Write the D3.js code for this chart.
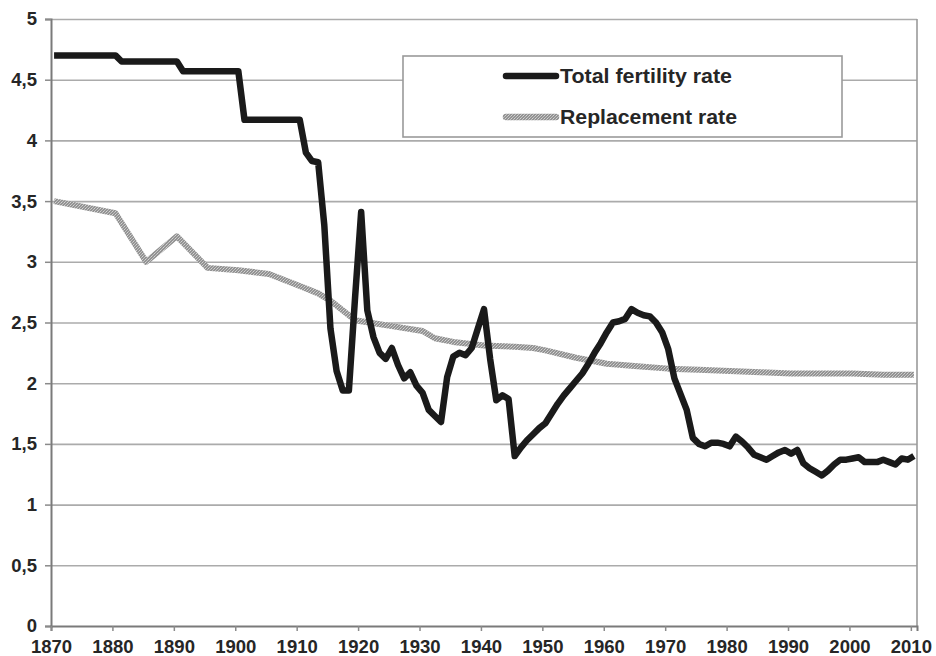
<!DOCTYPE html>
<html>
<head>
<meta charset="utf-8">
<script src="https://cdn.jsdelivr.net/npm/d3@7"></script>
<style>
    body { margin: 0; background: #fff; }
    svg text { font-family: "Liberation Sans", Arial, sans-serif; font-weight: bold; fill: #262626; }
</style>
</head>
<body>
<svg id="chart" width="936" height="656"></svg>
<script>
// total fertility rate (step values before 1911, then yearly)
const tfrYears = [1870, 1880, 1881, 1890, 1891, 1900, 1901, 1910,
    1911, 1912, 1913, 1914, 1915, 1916, 1917, 1918, 1919, 1920,
    1921, 1922, 1923, 1924, 1925, 1926, 1927, 1928, 1929, 1930,
    1931, 1932, 1933, 1934, 1935, 1936, 1937, 1938, 1939, 1940,
    1941, 1942, 1943, 1944, 1945, 1946, 1947, 1948, 1949, 1950,
    1951, 1952, 1953, 1954, 1955, 1956, 1957, 1958, 1959, 1960,
    1961, 1962, 1963, 1964, 1965, 1966, 1967, 1968, 1969, 1970,
    1971, 1972, 1973, 1974, 1975, 1976, 1977, 1978, 1979, 1980,
    1981, 1982, 1983, 1984, 1985, 1986, 1987, 1988, 1989, 1990,
    1991, 1992, 1993, 1994, 1995, 1996, 1997, 1998, 1999, 2000,
    2001, 2002, 2003, 2004, 2005, 2006, 2007, 2008, 2009, 2010];
const tfrValues = [4.70, 4.70, 4.65, 4.65, 4.57, 4.57, 4.17, 4.17,
    3.90, 3.83, 3.82, 3.30, 2.45, 2.10, 1.94, 1.94, 2.70, 3.41,
    2.60, 2.38, 2.25, 2.20, 2.29, 2.15, 2.04, 2.09, 1.98, 1.92,
    1.78, 1.73, 1.68, 2.05, 2.22, 2.25, 2.23, 2.29, 2.45, 2.61,
    2.20, 1.86, 1.90, 1.87, 1.40, 1.47, 1.53, 1.58, 1.63, 1.67,
    1.75, 1.83, 1.90, 1.96, 2.02, 2.08, 2.16, 2.25, 2.33, 2.42,
    2.50, 2.51, 2.53, 2.61, 2.58, 2.56, 2.55, 2.50, 2.42, 2.28,
    2.04, 1.91, 1.78, 1.55, 1.50, 1.48, 1.51, 1.51, 1.50, 1.48,
    1.56, 1.52, 1.47, 1.41, 1.39, 1.37, 1.40, 1.43, 1.45, 1.42,
    1.45, 1.34, 1.30, 1.27, 1.24, 1.28, 1.33, 1.37, 1.37, 1.38,
    1.39, 1.35, 1.35, 1.35, 1.37, 1.35, 1.33, 1.38, 1.37, 1.40];

// replacement rate
const replYears = [1870, 1880, 1885, 1890, 1895, 1900, 1905, 1910, 1913, 1915,
    1917, 1919, 1920, 1925, 1930, 1932, 1935, 1940, 1945, 1948,
    1950, 1955, 1960, 1965, 1970, 1975, 1980, 1985, 1990, 1995,
    2000, 2005, 2010];
const replValues = [3.50, 3.40, 3.00, 3.21, 2.95, 2.93, 2.90, 2.80, 2.74, 2.68,
    2.60, 2.52, 2.51, 2.47, 2.43, 2.37, 2.34, 2.31, 2.30, 2.29,
    2.27, 2.21, 2.16, 2.14, 2.12, 2.11, 2.10, 2.09, 2.08, 2.08,
    2.08, 2.07, 2.07];

const xTicks = d3.range(1870, 2011, 10);
const yTicks = d3.range(0, 5.01, 0.5);
const seriesNames = ["Total fertility rate", "Replacement rate"];

const svg = d3.select("svg#chart");

const plotLeft = 51, plotRight = 917, plotTop = 19, plotBottom = 626;

// yearly categories sit half a year to the right of the tick
const scaleX = d3.scaleLinear().domain([1870, 2011]).range([plotLeft, plotRight]);
const scaleY = d3.scaleLinear().domain([0, 5]).range([plotBottom, plotTop]);

const fmt = d => d3.format(".1~f")(d).replace(".", ",");

// textured grey stroke for the replacement line
const pat = svg.append("defs").append("pattern")
    .attr("id", "grain")
    .attr("patternUnits", "userSpaceOnUse")
    .attr("width", 3).attr("height", 3);
pat.append("rect").attr("width", 3).attr("height", 3).attr("fill", "#939393");
pat.append("rect").attr("x", 1).attr("y", 1).attr("width", 1).attr("height", 1).attr("fill", "#d4d4d4");
pat.append("rect").attr("x", 2).attr("y", 0).attr("width", 1).attr("height", 1).attr("fill", "#c2c2c2");
pat.append("rect").attr("x", 0).attr("y", 2).attr("width", 1).attr("height", 1).attr("fill", "#c2c2c2");

// horizontal grid
svg.append("g")
    .attr("transform", `translate(${plotLeft}, 0)`)
    .call(d3.axisLeft(scaleY).tickValues(yTicks.slice(1)).tickSize(-(plotRight - plotLeft)).tickFormat(""))
    .call(g => g.select(".domain").remove())
    .call(g => g.selectAll("line").attr("stroke", "#ababab").attr("stroke-width", 1.6));

// right border
svg.append("line")
    .attr("x1", plotRight).attr("x2", plotRight)
    .attr("y1", plotTop).attr("y2", plotBottom)
    .attr("stroke", "#9a9a9a").attr("stroke-width", 1.6);

// axes
const axisY = svg.append("g")
    .attr("transform", `translate(${plotLeft}, 0)`)
    .call(d3.axisLeft(scaleY).tickValues(yTicks).tickSize(6).tickPadding(8).tickFormat(fmt));
const axisX = svg.append("g")
    .attr("transform", `translate(0, ${plotBottom})`)
    .call(d3.axisBottom(scaleX).tickValues(xTicks).tickSize(5).tickPadding(9).tickFormat(d3.format("d")));

[axisY, axisX].forEach(ax => {
    ax.select(".domain").attr("stroke", "#7a7a7a").attr("stroke-width", 2);
    ax.selectAll(".tick line").attr("stroke", "#8a8a8a").attr("stroke-width", 1.5);
    ax.selectAll("text").attr("font-size", 18.5).attr("font-family", null).attr("fill", null);
});

// lines
const line = d3.line()
    .x(d => scaleX(d.year + 0.5))
    .y(d => scaleY(d.v));

const replData = replYears.map((y, i) => ({year: y, v: replValues[i]}));
const tfrData = tfrYears.map((y, i) => ({year: y, v: tfrValues[i]}));

svg.append("path")
    .datum(replData)
    .attr("d", line)
    .attr("fill", "none")
    .attr("stroke", "url(#grain)")
    .attr("stroke-width", 6)
    .attr("stroke-linejoin", "round");

svg.append("path")
    .datum(tfrData)
    .attr("d", line)
    .attr("fill", "none")
    .attr("stroke", "#1a1a1a")
    .attr("stroke-width", 6.5)
    .attr("stroke-linejoin", "round");

// legend
const legend = svg.append("g");
legend.append("rect")
    .attr("x", 403).attr("y", 56)
    .attr("width", 439).attr("height", 81)
    .attr("fill", "#fff")
    .attr("stroke", "#9a9a9a").attr("stroke-width", 1.6);

const legendRows = [
    {name: seriesNames[0], stroke: "#1a1a1a", y: 76, len: 172},
    {name: seriesNames[1], stroke: "url(#grain)", y: 117, len: 177}
];
legendRows.forEach(r => {
    legend.append("line")
        .attr("x1", 506).attr("x2", 556)
        .attr("y1", r.y).attr("y2", r.y)
        .attr("stroke", r.stroke).attr("stroke-width", 6.5)
        .attr("stroke-linecap", "round");
    legend.append("text")
        .attr("x", 560).attr("y", r.y + 7)
        .attr("font-size", 20)
        .attr("textLength", r.len)
        .attr("lengthAdjust", "spacingAndGlyphs")
        .text(r.name);
});
</script>
</body>
</html>
